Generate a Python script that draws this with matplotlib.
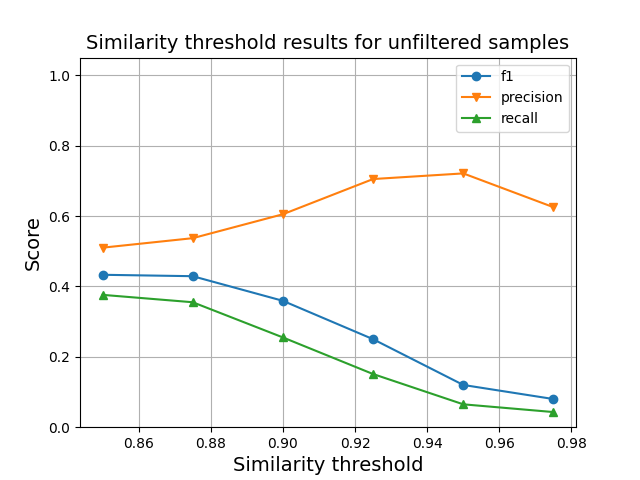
import matplotlib
matplotlib.use("Agg")
import matplotlib.pyplot as plt

# similarity thresholds and scores
thresholds = [0.85, 0.875, 0.90, 0.925, 0.95, 0.975]
f1 = [0.433, 0.429, 0.359, 0.250, 0.120, 0.080]
precision = [0.510, 0.537, 0.605, 0.705, 0.721, 0.625]
recall = [0.376, 0.355, 0.255, 0.151, 0.065, 0.043]

plt.figure(figsize=(6.4, 4.8), dpi=100)
plt.plot(thresholds, f1, marker='o', label='f1')
plt.plot(thresholds, precision, marker='v', label='precision')
plt.plot(thresholds, recall, marker='^', label='recall')

plt.ylim(0, 1.05)
plt.title('Similarity threshold results for unfiltered samples', fontsize=14)
plt.xlabel('Similarity threshold', fontsize=14)
plt.ylabel('Score', fontsize=14)
plt.legend(loc='upper right')
plt.grid(True)

plt.savefig('out.png', dpi=100)
